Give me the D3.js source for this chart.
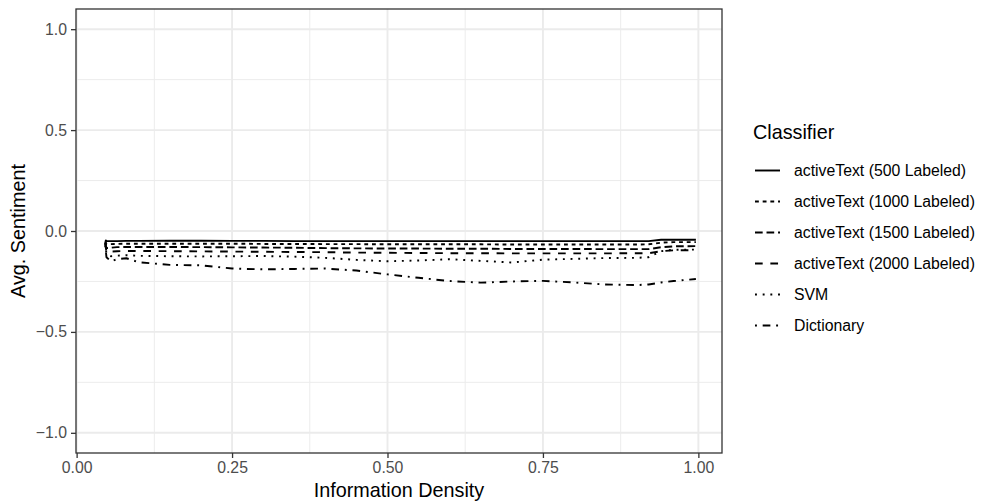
<!DOCTYPE html>
<html>
<head>
<meta charset="utf-8">
<script src="https://cdn.jsdelivr.net/npm/d3@7"></script>
<style>
  html, body { margin: 0; padding: 0; background: #fff; }
  svg { display: block; font-family: "Liberation Sans", Arial, Helvetica, sans-serif; }
</style>
</head>
<body>
<svg id="chart" width="982" height="502"></svg>
<script>
// ---- data ----
const xValues = [0.046, 0.048, 0.055, 0.065, 0.08, 0.1, 0.15, 0.2, 0.25, 0.3, 0.35, 0.4, 0.45, 0.5, 0.55, 0.6, 0.65, 0.7, 0.75, 0.8, 0.85, 0.9, 0.92, 0.94, 0.96, 0.996];
const at500  = [-0.045, -0.05, -0.05, -0.05, -0.049, -0.049, -0.048, -0.048, -0.049, -0.049, -0.05, -0.05, -0.05, -0.05, -0.05, -0.05, -0.05, -0.05, -0.05, -0.05, -0.05, -0.05, -0.05, -0.043, -0.043, -0.043];
const at1000 = [-0.05, -0.065, -0.065, -0.064, -0.063, -0.063, -0.063, -0.063, -0.063, -0.064, -0.064, -0.065, -0.065, -0.066, -0.066, -0.066, -0.066, -0.067, -0.067, -0.067, -0.067, -0.067, -0.066, -0.058, -0.055, -0.055];
const at1500 = [-0.055, -0.085, -0.083, -0.08, -0.079, -0.079, -0.079, -0.08, -0.081, -0.082, -0.083, -0.085, -0.086, -0.087, -0.087, -0.088, -0.088, -0.089, -0.089, -0.089, -0.09, -0.09, -0.09, -0.08, -0.076, -0.075];
const at2000 = [-0.06, -0.105, -0.102, -0.1, -0.099, -0.099, -0.1, -0.101, -0.102, -0.103, -0.104, -0.105, -0.107, -0.108, -0.109, -0.11, -0.11, -0.111, -0.111, -0.111, -0.111, -0.11, -0.11, -0.1, -0.096, -0.095];
const svm    = [-0.06, -0.115, -0.125, -0.122, -0.12, -0.123, -0.125, -0.126, -0.125, -0.124, -0.127, -0.133, -0.143, -0.15, -0.146, -0.14, -0.148, -0.156, -0.142, -0.138, -0.134, -0.133, -0.13, -0.1, -0.093, -0.092];
const dictionary = [-0.07, -0.13, -0.15, -0.14, -0.135, -0.155, -0.168, -0.17, -0.186, -0.19, -0.188, -0.186, -0.196, -0.215, -0.232, -0.248, -0.256, -0.25, -0.247, -0.255, -0.265, -0.268, -0.265, -0.255, -0.248, -0.238];

const seriesNames = ["activeText (500 Labeled)", "activeText (1000 Labeled)", "activeText (1500 Labeled)", "activeText (2000 Labeled)", "SVM", "Dictionary"];
const seriesValues = [at500, at1000, at1500, at2000, svm, dictionary];
const xTicks = [0, 0.25, 0.5, 0.75, 1];
const xTickLabels = ["0.00", "0.25", "0.50", "0.75", "1.00"];
const yTicks = [-1, -0.5, 0, 0.5, 1];
const yTickLabels = ["\u22121.0", "\u22120.5", "0.0", "0.5", "1.0"];
const xMinor = [0.125, 0.375, 0.625, 0.875];
const yMinor = [-0.75, -0.25, 0.25, 0.75];
const xTitle = "Information Density";
const yTitle = "Avg. Sentiment";
const legendTitle = "Classifier";

// ---- styles (ggplot linetypes, lwd units) ----
const lw = 1.92;
const dashes = [null, [2, 2], [4, 2], [4, 4], [1, 3], [1, 3, 4, 3]].map(d => d ? d.map(v => (v * lw).toFixed(2)).join(",") : null);

const svg = d3.select("#chart");
const P = { left: 76, right: 722, top: 9, bottom: 453 };

const x = d3.scaleLinear().domain([-0.001, 1.038]).range([P.left, P.right]);
const y = d3.scaleLinear().domain([-1.1, 1.1]).range([P.bottom, P.top]);

// panel background
svg.append("rect").attr("x", P.left).attr("y", P.top)
  .attr("width", P.right - P.left).attr("height", P.bottom - P.top).attr("fill", "#fff");

const grid = svg.append("g");
grid.selectAll(".xm").data(xMinor).join("line")
  .attr("x1", d => x(d)).attr("x2", d => x(d)).attr("y1", P.top).attr("y2", P.bottom)
  .attr("stroke", "#ebebeb").attr("stroke-width", 0.96);
grid.selectAll(".ym").data(yMinor).join("line")
  .attr("y1", d => y(d)).attr("y2", d => y(d)).attr("x1", P.left).attr("x2", P.right)
  .attr("stroke", "#ebebeb").attr("stroke-width", 0.96);
grid.selectAll(".xM").data(xTicks).join("line")
  .attr("x1", d => x(d)).attr("x2", d => x(d)).attr("y1", P.top).attr("y2", P.bottom)
  .attr("stroke", "#ebebeb").attr("stroke-width", 1.92);
grid.selectAll(".yM").data(yTicks).join("line")
  .attr("y1", d => y(d)).attr("y2", d => y(d)).attr("x1", P.left).attr("x2", P.right)
  .attr("stroke", "#ebebeb").attr("stroke-width", 1.92);

// lines
const line = d3.line().x(d => x(d[0])).y(d => y(d[1]));
const gLines = svg.append("g");
seriesValues.forEach((vals, i) => {
  const pts = xValues.map((xv, j) => [xv, vals[j]]);
  gLines.append("path").datum(pts).attr("d", line)
    .attr("fill", "none").attr("stroke", "#000").attr("stroke-width", lw)
    .attr("stroke-linejoin", "round")
    .attr("stroke-dasharray", dashes[i]);
});

// panel border
svg.append("rect").attr("x", P.left).attr("y", P.top)
  .attr("width", P.right - P.left).attr("height", P.bottom - P.top)
  .attr("fill", "none").attr("stroke", "#333333").attr("stroke-width", 1.3);

// axes
const xAxis = d3.axisBottom(x).tickValues(xTicks).tickFormat((d, i) => xTickLabels[i]).tickSize(5).tickPadding(4);
const yAxis = d3.axisLeft(y).tickValues(yTicks).tickFormat((d, i) => yTickLabels[i]).tickSize(5).tickPadding(4);
const gx = svg.append("g").attr("transform", `translate(0,${P.bottom})`).call(xAxis);
const gy = svg.append("g").attr("transform", `translate(${P.left},0)`).call(yAxis);
[gx, gy].forEach(g => {
  g.select(".domain").remove();
  g.selectAll(".tick line").attr("stroke", "#333333").attr("stroke-width", 1.3);
  g.selectAll(".tick text").attr("fill", "#4d4d4d").style("font-size", "15.8px")
    .style("font-family", "'Liberation Sans', Arial, sans-serif");
});

// axis titles
svg.append("text").attr("x", (P.left + P.right) / 2).attr("y", 497)
  .attr("text-anchor", "middle").style("font-size", "19.8px").attr("fill", "#000").text(xTitle);
svg.append("text").attr("transform", `translate(25,${(P.top + P.bottom) / 2}) rotate(-90)`)
  .attr("text-anchor", "middle").style("font-size", "19.8px").attr("fill", "#000").text(yTitle);

// legend
const lg = svg.append("g");
lg.append("text").attr("x", 753).attr("y", 139).style("font-size", "19.8px").attr("fill", "#000").text(legendTitle);
seriesNames.forEach((name, i) => {
  const cy = 170.5 + i * 31;
  lg.append("line").attr("x1", 755).attr("x2", 780).attr("y1", cy).attr("y2", cy)
    .attr("stroke", "#000").attr("stroke-width", lw).attr("stroke-dasharray", dashes[i]);
  lg.append("text").attr("x", 794).attr("y", cy).attr("dy", "0.35em")
    .style("font-size", "15.8px").attr("fill", "#000").text(name);
});
</script>
</body>
</html>
